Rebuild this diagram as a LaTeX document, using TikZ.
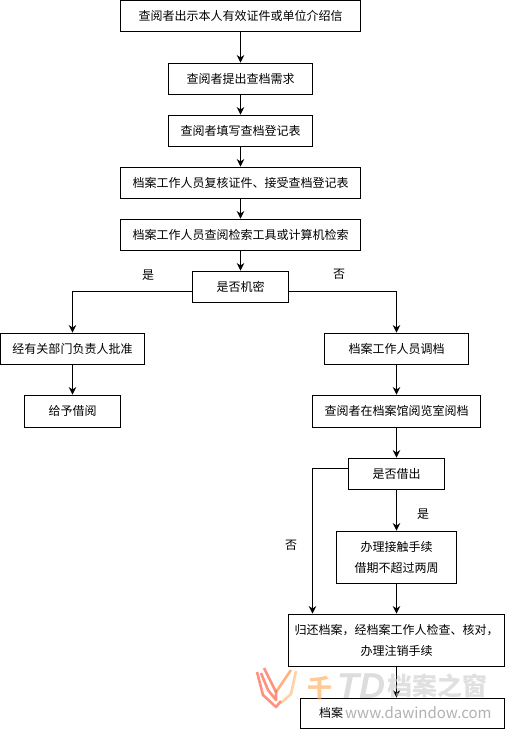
\documentclass[tikz,border=0pt]{standalone}
\usepackage{fontspec}
\setmainfont{Noto Sans CJK SC}
\newfontfamily\markfont{Liberation Sans}
\usepackage{tikz}
\usetikzlibrary{arrows.meta,positioning,calc}

\begin{document}
\begin{tikzpicture}[
    x=1pt, y=-1pt,
    box/.style={rectangle, draw, line width=0.9pt, fill=white, minimum width=#1, minimum height=31pt, inner sep=0pt, font=\fontsize{12}{21}\selectfont, align=center},
    box/.default=144pt,
    arr/.style={-{Stealth[length=7.5pt, width=7.5pt]}, line width=0.9pt},
    lab/.style={font=\fontsize{12}{14}\selectfont, inner sep=0pt},
    logo/.style={line width=2.6pt, opacity=0.5, line join=round},
    wmark/.style={font=\fontsize{#1}{#1}\selectfont\bfseries, inner sep=0pt, opacity=0.6}
]
\useasboundingbox (0,0) rectangle (507,730);
\node[box=240pt] (show) at (240.5,16) {查阅者出示本人有效证件或单位介绍信};
\node[box] (need) at (240.5,78.5) {查阅者提出查档需求};
\node[box] (form) at (240.5,130.5) {查阅者填写查档登记表};
\node[box=240pt] (check) at (240.5,182.5) {档案工作人员复核证件、接受查档登记表};
\node[box=240pt] (search) at (240.5,234.5) {档案工作人员查阅检索工具或计算机检索};
\node[box=96pt] (secret) at (240.5,286.5) {是否机密};
\node[box] (approve) at (72.5,348.5) {经有关部门负责人批准};
\node[box=96pt, minimum height=32pt] (lend) at (72.5,411) {给予借阅};
\node[box] (fetch) at (396.5,348.5) {档案工作人员调档};
\node[box=168pt, minimum height=32pt] (read) at (396.5,411) {查阅者在档案馆阅览室阅档};
\node[box=96pt] (out) at (396.5,473.5) {是否借出};
\node[box=120pt, minimum height=52pt] (borrow) at (396.5,557) {办理接触手续\\借期不超过两周};
\node[box=216pt, minimum height=52pt] (back) at (396.5,640) {归还档案，经档案工作人检查、核对，\\办理注销手续};
\node[box=204pt, minimum height=30pt] (shelf) at (402.5,713) {};
\node[lab, anchor=west] (shelftext) at (319,713) {档案};

\node[lab] (yes1) at (148,275) {是};
\node[lab] (no1) at (339,274) {否};
\node[lab] (yes2) at (423,514) {是};
\node[lab] (no2) at (291,545) {否};

\coordinate (outleft) at (312.5,468);

\draw[arr] (show) -- (need);
\draw[arr] (need) -- (form);
\draw[arr] (form) -- (check);
\draw[arr] (check) -- (search);
\draw[arr] (search) -- (secret);
\draw[arr] ([yshift=-5pt]secret.west) -| (approve.north);
\draw[arr] ([yshift=-5pt]secret.east) -| (fetch.north);
\draw[arr] (approve) -- (lend);
\draw[arr] (fetch) -- (read);
\draw[arr] (read) -- (out);
\draw[arr] (out) -- (borrow);
\draw[arr] (borrow) -- (back);
\draw[arr] ([yshift=5.5pt]out.west) -- (outleft) -- (outleft |- back.north);
\draw[arr] (back.south) -- (back.south |- shelf.north);

% watermark
\draw[logo, red!70!orange] (257,672) -- (263,695) -- (276,707) -- (281,701);
\draw[logo, red!70!orange] (264,668) -- (276,692) -- (276,700) -- (268,690) -- (261,673);
\draw[logo, orange!80!red] (291,670) -- (276,692);
\draw[logo, orange!70] (296,671) -- (291,694) -- (281,703);
\node[wmark=25, text=orange!70] (wm1) at (320,688) {千};
\node[wmark=36, text=gray!45, font=\fontsize{36}{36}\selectfont\markfont\bfseries\itshape] (wm2) at (361,686) {TD};
\node[wmark=25, text=gray!40] (wm3) at (437,686) {档案之窗};
\node[font=\fontsize{15}{15}\selectfont, text=gray!60, inner sep=0pt, anchor=west] (wm4) at (345,713) {www.dawindow.com};
\end{tikzpicture}
\end{document}
